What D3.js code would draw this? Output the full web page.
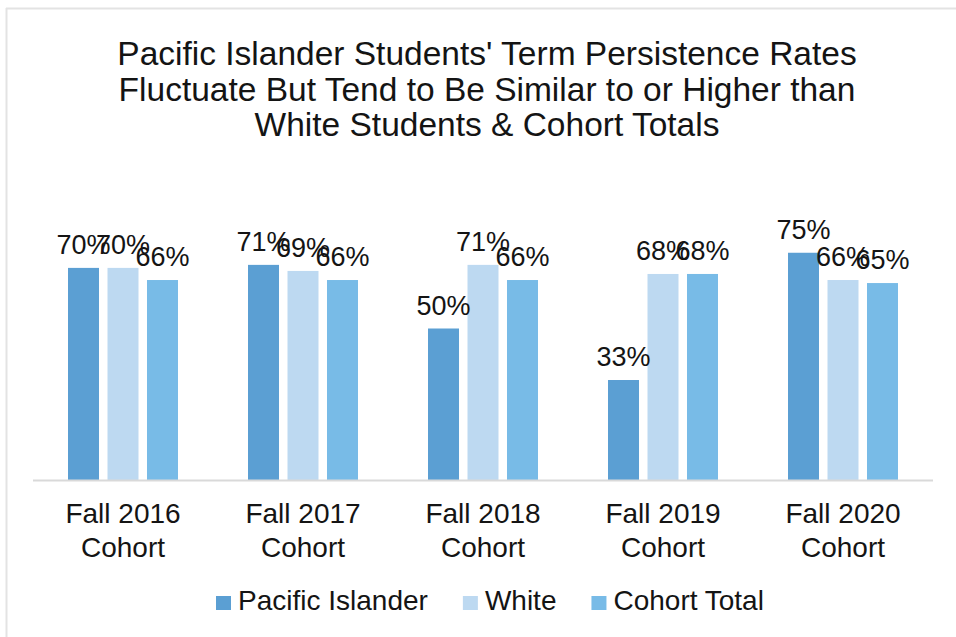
<!DOCTYPE html>
<html>
<head>
<meta charset="utf-8">
<script src="https://cdn.jsdelivr.net/npm/d3@7/dist/d3.min.js"></script>
<style>
  html, body { margin: 0; padding: 0; background: #fff; }
  svg { display: block; font-family: "Liberation Sans", Arial, sans-serif; }
</style>
</head>
<body>
<svg id="chart" width="956" height="637"></svg>
<script>
const titleLines = [
  "Pacific Islander Students' Term Persistence Rates",
  "Fluctuate But Tend to Be Similar to or Higher than",
  "White Students & Cohort Totals"
];
const categories = [
  ["Fall 2016", "Cohort"],
  ["Fall 2017", "Cohort"],
  ["Fall 2018", "Cohort"],
  ["Fall 2019", "Cohort"],
  ["Fall 2020", "Cohort"]
];
const seriesNames = ["Pacific Islander", "White", "Cohort Total"];
const pacificIslander = [0.70, 0.71, 0.50, 0.33, 0.75];
const white = [0.70, 0.69, 0.71, 0.68, 0.66];
const cohortTotal = [0.66, 0.66, 0.66, 0.68, 0.65];
const seriesColors = ["#5b9fd3", "#bdd9f1", "#78bbe7"];

const seriesValues = [pacificIslander, white, cohortTotal];
const svg = d3.select("#chart");
const textColor = "#141414";

// frame
svg.append("line").attr("x1", 6).attr("x2", 956).attr("y1", 8.5).attr("y2", 8.5)
  .attr("stroke", "#e3e3e3").attr("stroke-width", 2);
svg.append("line").attr("x1", 6.5).attr("x2", 6.5).attr("y1", 8).attr("y2", 637)
  .attr("stroke", "#e3e3e3").attr("stroke-width", 2);

// title
const title = svg.append("text").attr("text-anchor", "middle")
  .attr("fill", textColor).style("font-size", "33.5px");
titleLines.forEach((t, i) => {
  title.append("tspan").attr("x", 487).attr("y", 65 + i * 35.5).text(t);
});

const x0 = d3.scaleBand().domain(d3.range(categories.length))
  .range([33, 933]).paddingInner(0.389).paddingOuter(0.1945);
const x1 = d3.scaleBand().domain(d3.range(seriesNames.length))
  .range([0, x0.bandwidth()]).paddingInner(0.215).paddingOuter(0);
const y = d3.scaleLinear().domain([0, 0.8]).range([480, 480 - 242.4]);

// bars
const groups = svg.append("g").selectAll("g")
  .data(categories.map((c, i) => i))
  .join("g")
  .attr("transform", i => `translate(${x0(i)},0)`);

groups.selectAll("rect")
  .data(i => seriesValues.map((s, k) => ({ k, v: s[i] })))
  .join("rect")
  .attr("x", d => x1(d.k))
  .attr("width", x1.bandwidth())
  .attr("y", d => y(d.v))
  .attr("height", d => y(0) - y(d.v))
  .attr("fill", d => seriesColors[d.k]);

// axis line
svg.append("line").attr("x1", 33).attr("x2", 933).attr("y1", 480.5).attr("y2", 480.5)
  .attr("stroke", "#d9d9d9").attr("stroke-width", 2);

// value labels
groups.selectAll("text.val")
  .data(i => seriesValues.map((s, k) => ({ k, v: s[i] })))
  .join("text")
  .attr("class", "val")
  .attr("x", d => x1(d.k) + x1.bandwidth() / 2)
  .attr("y", d => y(d.v) - 14)
  .attr("text-anchor", "middle")
  .attr("fill", textColor)
  .style("font-size", "27px")
  .text(d => d3.format(".0%")(d.v));

// category labels
const xAxis = d3.axisBottom(x0).tickSize(0).tickFormat("");
svg.append("g").attr("transform", "translate(0,480)").call(xAxis)
  .call(g => g.select(".domain").remove());
const catLabels = svg.append("g");
categories.forEach((c, i) => {
  const t = catLabels.append("text").attr("text-anchor", "middle")
    .attr("fill", textColor).style("font-size", "28px");
  c.forEach((line, j) => {
    t.append("tspan").attr("x", x0(i) + x0.bandwidth() / 2).attr("y", 523 + j * 34).text(line);
  });
});

// legend
const legend = svg.append("g");
let lx = 216;
seriesNames.forEach((name, k) => {
  legend.append("rect").attr("x", lx).attr("y", 596).attr("width", 15).attr("height", 14)
    .attr("fill", seriesColors[k]);
  const t = legend.append("text").attr("x", lx + 22).attr("y", 610)
    .attr("fill", textColor).style("font-size", "28px").text(name);
  lx += 22 + t.node().getComputedTextLength() + 35;
});
</script>
</body>
</html>
